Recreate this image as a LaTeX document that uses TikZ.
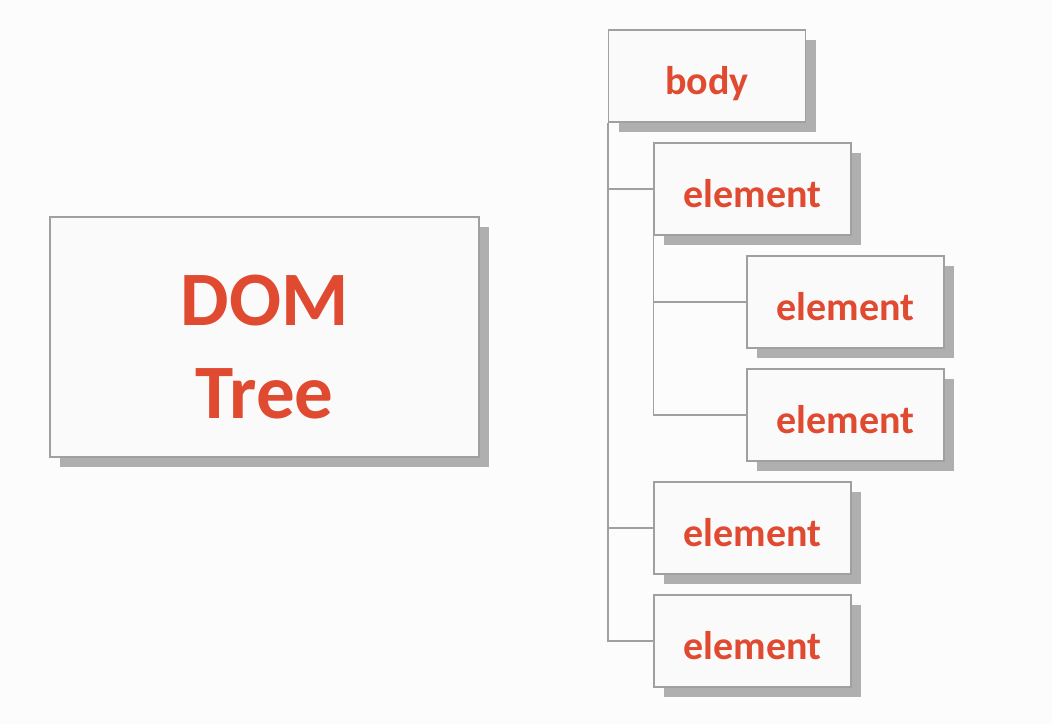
\documentclass[tikz,border=0pt]{standalone}
\usepackage{fontspec}
\setmainfont{Carlito}
\usetikzlibrary{shadows}
\definecolor{domred}{RGB}{224,74,48}
\definecolor{boxline}{RGB}{160,160,160}
\definecolor{boxfill}{RGB}{250,250,250}
\tikzset{
  treebox/.style={draw=boxline, line width=1.2pt, fill=boxfill,
    minimum width=197pt, minimum height=92pt, inner sep=0pt,
    text=domred, font=\fontsize{40}{48}\selectfont\bfseries,
    text height=36pt, text depth=0pt,
    drop shadow={shadow xshift=10pt, shadow yshift=-10pt, fill=black, opacity=.3}},
  link/.style={draw=boxline, line width=1.4pt}
}
\begin{document}
\begin{tikzpicture}[x=1pt, y=-1pt]
\fill[white!99!black] (0,0) rectangle (1052,724);
\useasboundingbox (0,0) rectangle (1052,724);

\node[treebox, minimum width=429pt, minimum height=240pt, align=center,
  text height=162pt, text depth=0pt,
  font=\fontsize{77}{93}\selectfont\bfseries] (dom) at (264.5,337) {DOM\\Tree};

\node[treebox] (body) at (707,76) {body};
\node[treebox] (el1) at (752.5,189) {element};
\node[treebox] (el2) at (845.5,302) {element};
\node[treebox] (el3) at (845.5,415) {element};
\node[treebox] (el4) at (752.5,528) {element};
\node[treebox] (el5) at (752.5,641) {element};

\foreach \v in {el1,el4,el5}
{
    \draw[link] (body.south west) |- (\v.west);
}
\foreach \v in {el2,el3}
{
    \draw[link] (el1.south west) |- (\v.west);
}
\end{tikzpicture}
\end{document}
